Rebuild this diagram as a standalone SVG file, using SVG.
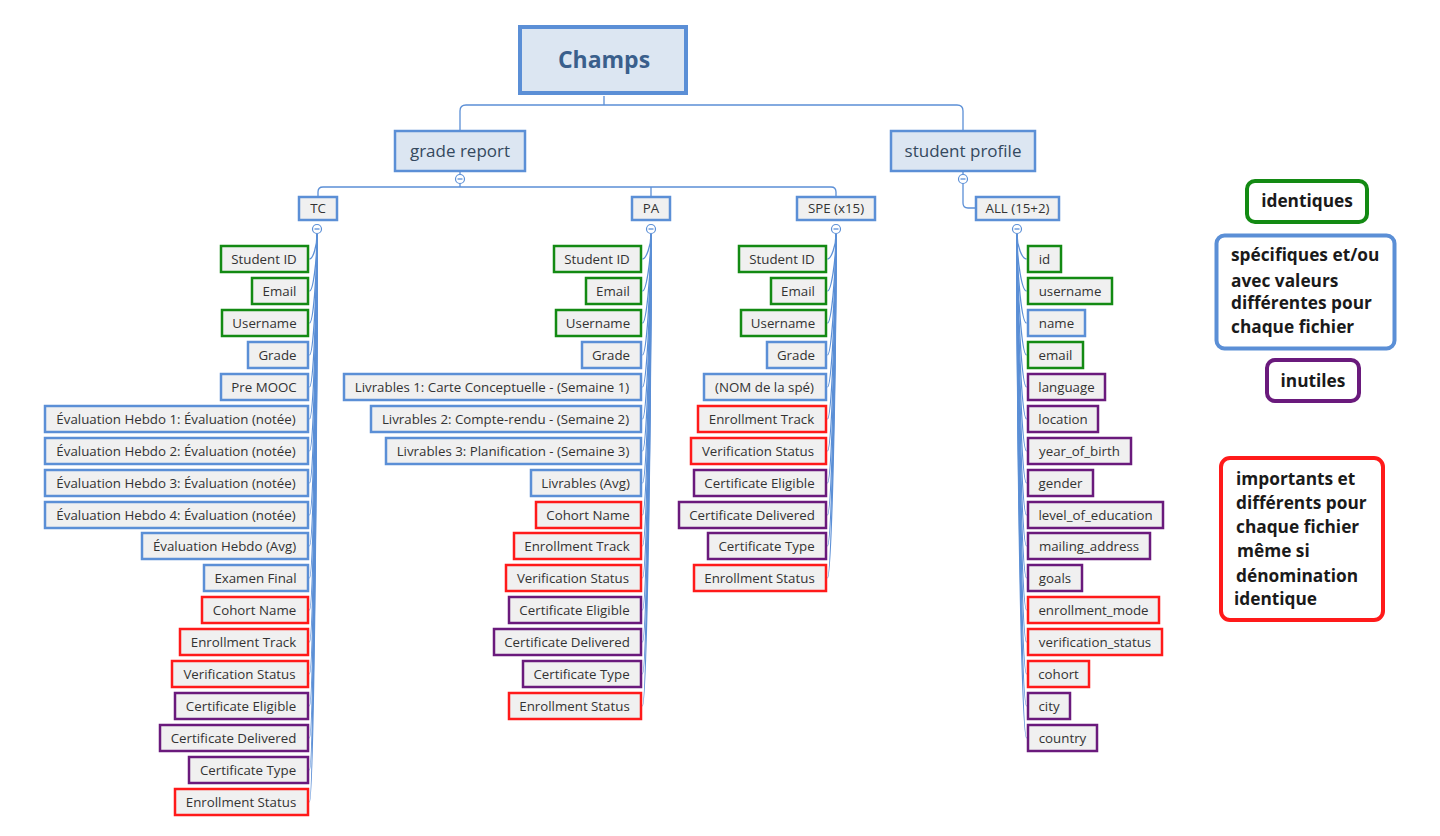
<svg xmlns="http://www.w3.org/2000/svg" width="1440" height="836" viewBox="0 0 1440 836">
<style>
text{font-family:"Open Sans","Noto Sans","Liberation Sans",sans-serif;}
.lf{fill:#f0f0f0;stroke-width:2.5;}
.g{stroke:#138a13;}
.b{stroke:#5b8fd6;}
.r{stroke:#ff1a1a;}
.p{stroke:#6a1a7c;}
.lt{font-size:13.3px;fill:#333;text-anchor:middle;}
.mid{fill:#f0f0f0;stroke:#5b8fd6;stroke-width:2.5;}
.cn{fill:none;stroke:#5b8fd6;stroke-width:1.3;}
.cc{fill:#fff;stroke:#5b8fd6;stroke-width:1.2;}
.lg{fill:#fff;stroke-width:4;}
.lgt{font-size:17.3px;font-weight:bold;fill:#1a1a1a;}
</style>
<rect width="1440" height="836" fill="#fff"/>

<g id="connectors">
<path class="cn" d="M604,96 V105 M460,130 V111 Q460,105 466,105 H957 Q963,105 963,111 V130"/>
<path class="cn" d="M460,172 V174.5 M460,183.5 V187 M318,196 V192 Q318,187 323,187 H831 Q836,187 836,192 V196 M651,187 V196"/>
<path class="cn" d="M963,172 V174.5 M963,183.5 V203 Q963,208 968,208 H975"/>
<g id="tc-links">
<path class="cn" d="M317,234 C317,246 313,259 309.5,259"/>
<path class="cn" d="M317,234 C317,262 313,291 309.5,291"/>
<path class="cn" d="M317,234 C317,278 313,323 309.5,323"/>
<path class="cn" d="M317,234 C317,294 313,355 309.5,355"/>
<path class="cn" d="M317,234 C317,310 313,387 309.5,387"/>
<path class="cn" d="M317,234 C317,326 313,419 309.5,419"/>
<path class="cn" d="M317,234 C317,342 313,451 309.5,451"/>
<path class="cn" d="M317,234 C317,358 313,483 309.5,483"/>
<path class="cn" d="M317,234 C317,374 313,515 309.5,515"/>
<path class="cn" d="M317,234 C317,390 313,546 309.5,546"/>
<path class="cn" d="M317,234 C317,406 313,578 309.5,578"/>
<path class="cn" d="M317,234 C317,422 313,610 309.5,610"/>
<path class="cn" d="M317,234 C317,438 313,642 309.5,642"/>
<path class="cn" d="M317,234 C317,454 313,674 309.5,674"/>
<path class="cn" d="M317,234 C317,470 313,706 309.5,706"/>
<path class="cn" d="M317,234 C317,486 313,738 309.5,738"/>
<path class="cn" d="M317,234 C317,502 313,770 309.5,770"/>
<path class="cn" d="M317,234 C317,518 313,802 309.5,802"/>
</g>
<g id="pa-links">
<path class="cn" d="M651,234 C651,246 646,259 642.5,259"/>
<path class="cn" d="M651,234 C651,262 646,291 642.5,291"/>
<path class="cn" d="M651,234 C651,278 646,323 642.5,323"/>
<path class="cn" d="M651,234 C651,294 646,355 642.5,355"/>
<path class="cn" d="M651,234 C651,310 646,387 642.5,387"/>
<path class="cn" d="M651,234 C651,326 646,419 642.5,419"/>
<path class="cn" d="M651,234 C651,342 646,451 642.5,451"/>
<path class="cn" d="M651,234 C651,358 646,483 642.5,483"/>
<path class="cn" d="M651,234 C651,374 646,515 642.5,515"/>
<path class="cn" d="M651,234 C651,390 646,546 642.5,546"/>
<path class="cn" d="M651,234 C651,406 646,578 642.5,578"/>
<path class="cn" d="M651,234 C651,422 646,610 642.5,610"/>
<path class="cn" d="M651,234 C651,438 646,642 642.5,642"/>
<path class="cn" d="M651,234 C651,454 646,674 642.5,674"/>
<path class="cn" d="M651,234 C651,470 646,706 642.5,706"/>
</g>
<g id="spe-links">
<path class="cn" d="M836,234 C836,246 831,259 827.5,259"/>
<path class="cn" d="M836,234 C836,262 831,291 827.5,291"/>
<path class="cn" d="M836,234 C836,278 831,323 827.5,323"/>
<path class="cn" d="M836,234 C836,294 831,355 827.5,355"/>
<path class="cn" d="M836,234 C836,310 831,387 827.5,387"/>
<path class="cn" d="M836,234 C836,326 831,419 827.5,419"/>
<path class="cn" d="M836,234 C836,342 831,451 827.5,451"/>
<path class="cn" d="M836,234 C836,358 831,483 827.5,483"/>
<path class="cn" d="M836,234 C836,374 831,515 827.5,515"/>
<path class="cn" d="M836,234 C836,390 831,546 827.5,546"/>
<path class="cn" d="M836,234 C836,406 831,578 827.5,578"/>
</g>
<g id="all-links">
<path class="cn" d="M1017,234 C1017,246 1022,259 1026.5,259"/>
<path class="cn" d="M1017,234 C1017,262 1022,291 1026.5,291"/>
<path class="cn" d="M1017,234 C1017,278 1022,323 1026.5,323"/>
<path class="cn" d="M1017,234 C1017,294 1022,355 1026.5,355"/>
<path class="cn" d="M1017,234 C1017,310 1022,387 1026.5,387"/>
<path class="cn" d="M1017,234 C1017,326 1022,419 1026.5,419"/>
<path class="cn" d="M1017,234 C1017,342 1022,451 1026.5,451"/>
<path class="cn" d="M1017,234 C1017,358 1022,483 1026.5,483"/>
<path class="cn" d="M1017,234 C1017,374 1022,515 1026.5,515"/>
<path class="cn" d="M1017,234 C1017,390 1022,546 1026.5,546"/>
<path class="cn" d="M1017,234 C1017,406 1022,578 1026.5,578"/>
<path class="cn" d="M1017,234 C1017,422 1022,610 1026.5,610"/>
<path class="cn" d="M1017,234 C1017,438 1022,642 1026.5,642"/>
<path class="cn" d="M1017,234 C1017,454 1022,674 1026.5,674"/>
<path class="cn" d="M1017,234 C1017,470 1022,706 1026.5,706"/>
<path class="cn" d="M1017,234 C1017,486 1022,738 1026.5,738"/>
</g>
<g id="collapse">
<circle class="cc" cx="460" cy="179" r="4.5"/><path class="cn" d="M457.5,179 H462.5"/>
<circle class="cc" cx="963" cy="179" r="4.5"/><path class="cn" d="M960.5,179 H965.5"/>
<circle class="cc" cx="317" cy="229" r="4.5"/><path class="cn" d="M314.5,229 H319.5"/>
<circle class="cc" cx="651" cy="229" r="4.5"/><path class="cn" d="M648.5,229 H653.5"/>
<circle class="cc" cx="836" cy="229" r="4.5"/><path class="cn" d="M833.5,229 H838.5"/>
<circle class="cc" cx="1017" cy="229" r="4.5"/><path class="cn" d="M1014.5,229 H1019.5"/>
</g>
</g>

<g id="root">
<rect x="520" y="27" width="166" height="66" fill="#dce6f2" stroke="#5b8fd6" stroke-width="4"/>
<text x="604" y="68" font-size="23" font-weight="bold" fill="#3a5f8c" text-anchor="middle">Champs</text>
</g>
<g id="grade-report">
<rect x="395" y="131" width="130" height="40" fill="#dce6f2" stroke="#5b8fd6" stroke-width="2.5"/>
<text x="460" y="157" font-size="17" fill="#34495e" text-anchor="middle">grade report</text>
</g>
<g id="student-profile">
<rect x="891" y="131" width="144" height="40" fill="#dce6f2" stroke="#5b8fd6" stroke-width="2.5"/>
<text x="963" y="157" font-size="17" fill="#34495e" text-anchor="middle">student profile</text>
</g>
<g id="tc"><rect class="mid" x="299" y="197" width="38" height="23"/><text class="lt" x="318" y="213">TC</text></g>
<g id="pa"><rect class="mid" x="632" y="197" width="38" height="23"/><text class="lt" x="651" y="213">PA</text></g>
<g id="spe"><rect class="mid" x="797" y="197" width="78" height="23"/><text class="lt" x="836" y="213">SPE (x15)</text></g>
<g id="all"><rect class="mid" x="976" y="197" width="83" height="23"/><text class="lt" x="1017.5" y="213">ALL (15+2)</text></g>

<g id="tc-leaves">
<g id="tc-1"><rect class="lf g" x="221" y="246" width="87" height="26"/><text class="lt" x="264" y="263.5">Student ID</text></g>
<g id="tc-2"><rect class="lf g" x="252" y="278" width="56" height="26"/><text class="lt" x="279.5" y="295.5">Email</text></g>
<g id="tc-3"><rect class="lf g" x="222" y="310" width="86" height="26"/><text class="lt" x="264.5" y="327.5">Username</text></g>
<g id="tc-4"><rect class="lf b" x="248" y="342" width="60" height="26"/><text class="lt" x="277.5" y="359.5">Grade</text></g>
<g id="tc-5"><rect class="lf b" x="221" y="374" width="87" height="26"/><text class="lt" x="264" y="391.5">Pre MOOC</text></g>
<g id="tc-6"><rect class="lf b" x="45" y="406" width="263" height="26"/><text class="lt" x="176" y="423.5">Évaluation Hebdo 1: Évaluation (notée)</text></g>
<g id="tc-7"><rect class="lf b" x="45" y="438" width="263" height="26"/><text class="lt" x="176" y="455.5">Évaluation Hebdo 2: Évaluation (notée)</text></g>
<g id="tc-8"><rect class="lf b" x="45" y="470" width="263" height="26"/><text class="lt" x="176" y="487.5">Évaluation Hebdo 3: Évaluation (notée)</text></g>
<g id="tc-9"><rect class="lf b" x="45" y="502" width="263" height="26"/><text class="lt" x="176" y="519.5">Évaluation Hebdo 4: Évaluation (notée)</text></g>
<g id="tc-10"><rect class="lf b" x="142" y="533" width="166" height="26"/><text class="lt" x="224.5" y="550.5">Évaluation Hebdo (Avg)</text></g>
<g id="tc-11"><rect class="lf b" x="204" y="565" width="104" height="26"/><text class="lt" x="255.5" y="582.5">Examen Final</text></g>
<g id="tc-12"><rect class="lf r" x="202" y="597" width="106" height="26"/><text class="lt" x="254.5" y="614.5">Cohort Name</text></g>
<g id="tc-13"><rect class="lf r" x="180" y="629" width="128" height="26"/><text class="lt" x="243.5" y="646.5">Enrollment Track</text></g>
<g id="tc-14"><rect class="lf r" x="172" y="661" width="136" height="26"/><text class="lt" x="239.5" y="678.5">Verification Status</text></g>
<g id="tc-15"><rect class="lf p" x="175" y="693" width="133" height="26"/><text class="lt" x="241" y="710.5">Certificate Eligible</text></g>
<g id="tc-16"><rect class="lf p" x="160" y="725" width="148" height="26"/><text class="lt" x="233.5" y="742.5">Certificate Delivered</text></g>
<g id="tc-17"><rect class="lf p" x="189" y="757" width="119" height="26"/><text class="lt" x="248" y="774.5">Certificate Type</text></g>
<g id="tc-18"><rect class="lf r" x="175" y="789" width="133" height="26"/><text class="lt" x="241" y="806.5">Enrollment Status</text></g>
</g>

<g id="pa-leaves">
<g id="pa-1"><rect class="lf g" x="554" y="246" width="87" height="26"/><text class="lt" x="597" y="263.5">Student ID</text></g>
<g id="pa-2"><rect class="lf g" x="586" y="278" width="55" height="26"/><text class="lt" x="613" y="295.5">Email</text></g>
<g id="pa-3"><rect class="lf g" x="556" y="310" width="85" height="26"/><text class="lt" x="598" y="327.5">Username</text></g>
<g id="pa-4"><rect class="lf b" x="582" y="342" width="59" height="26"/><text class="lt" x="611" y="359.5">Grade</text></g>
<g id="pa-5"><rect class="lf b" x="344" y="374" width="297" height="26"/><text class="lt" x="492" y="391.5">Livrables 1: Carte Conceptuelle - (Semaine 1)</text></g>
<g id="pa-6"><rect class="lf b" x="371" y="406" width="270" height="26"/><text class="lt" x="505.5" y="423.5">Livrables 2: Compte-rendu - (Semaine 2)</text></g>
<g id="pa-7"><rect class="lf b" x="386" y="438" width="255" height="26"/><text class="lt" x="513" y="455.5">Livrables 3: Planification - (Semaine 3)</text></g>
<g id="pa-8"><rect class="lf b" x="531" y="470" width="110" height="26"/><text class="lt" x="585.5" y="487.5">Livrables (Avg)</text></g>
<g id="pa-9"><rect class="lf r" x="536" y="502" width="105" height="26"/><text class="lt" x="588" y="519.5">Cohort Name</text></g>
<g id="pa-10"><rect class="lf r" x="514" y="533" width="127" height="26"/><text class="lt" x="577" y="550.5">Enrollment Track</text></g>
<g id="pa-11"><rect class="lf r" x="506" y="565" width="135" height="26"/><text class="lt" x="573" y="582.5">Verification Status</text></g>
<g id="pa-12"><rect class="lf p" x="509" y="597" width="132" height="26"/><text class="lt" x="574.5" y="614.5">Certificate Eligible</text></g>
<g id="pa-13"><rect class="lf p" x="494" y="629" width="147" height="26"/><text class="lt" x="567" y="646.5">Certificate Delivered</text></g>
<g id="pa-14"><rect class="lf p" x="523" y="661" width="118" height="26"/><text class="lt" x="581.5" y="678.5">Certificate Type</text></g>
<g id="pa-15"><rect class="lf r" x="509" y="693" width="132" height="26"/><text class="lt" x="574.5" y="710.5">Enrollment Status</text></g>
</g>

<g id="spe-leaves">
<g id="spe-1"><rect class="lf g" x="739" y="246" width="87" height="26"/><text class="lt" x="782" y="263.5">Student ID</text></g>
<g id="spe-2"><rect class="lf g" x="771" y="278" width="55" height="26"/><text class="lt" x="798" y="295.5">Email</text></g>
<g id="spe-3"><rect class="lf g" x="741" y="310" width="85" height="26"/><text class="lt" x="783" y="327.5">Username</text></g>
<g id="spe-4"><rect class="lf b" x="767" y="342" width="59" height="26"/><text class="lt" x="796" y="359.5">Grade</text></g>
<g id="spe-5"><rect class="lf b" x="704" y="374" width="122" height="26"/><text class="lt" x="764.5" y="391.5">(NOM de la spé)</text></g>
<g id="spe-6"><rect class="lf r" x="698" y="406" width="128" height="26"/><text class="lt" x="761.5" y="423.5">Enrollment Track</text></g>
<g id="spe-7"><rect class="lf r" x="691" y="438" width="135" height="26"/><text class="lt" x="758" y="455.5">Verification Status</text></g>
<g id="spe-8"><rect class="lf p" x="694" y="470" width="132" height="26"/><text class="lt" x="759.5" y="487.5">Certificate Eligible</text></g>
<g id="spe-9"><rect class="lf p" x="679" y="502" width="147" height="26"/><text class="lt" x="752" y="519.5">Certificate Delivered</text></g>
<g id="spe-10"><rect class="lf p" x="708" y="533" width="118" height="26"/><text class="lt" x="766.5" y="550.5">Certificate Type</text></g>
<g id="spe-11"><rect class="lf r" x="694" y="565" width="132" height="26"/><text class="lt" x="759.5" y="582.5">Enrollment Status</text></g>
</g>

<g id="all-leaves">
<g id="all-1"><rect class="lf g" x="1028" y="246" width="33" height="26"/><text class="lt" x="1044.5" y="263.5">id</text></g>
<g id="all-2"><rect class="lf g" x="1028" y="278" width="84" height="26"/><text class="lt" x="1070" y="295.5">username</text></g>
<g id="all-3"><rect class="lf b" x="1028" y="310" width="57" height="26"/><text class="lt" x="1056.5" y="327.5">name</text></g>
<g id="all-4"><rect class="lf g" x="1028" y="342" width="55" height="26"/><text class="lt" x="1055.5" y="359.5">email</text></g>
<g id="all-5"><rect class="lf p" x="1028" y="374" width="77" height="26"/><text class="lt" x="1066.5" y="391.5">language</text></g>
<g id="all-6"><rect class="lf p" x="1028" y="406" width="70" height="26"/><text class="lt" x="1063" y="423.5">location</text></g>
<g id="all-7"><rect class="lf p" x="1028" y="438" width="103" height="26"/><text class="lt" x="1079.5" y="455.5">year_of_birth</text></g>
<g id="all-8"><rect class="lf p" x="1028" y="470" width="65" height="26"/><text class="lt" x="1060.5" y="487.5">gender</text></g>
<g id="all-9"><rect class="lf p" x="1028" y="502" width="135" height="26"/><text class="lt" x="1095.5" y="519.5">level_of_education</text></g>
<g id="all-10"><rect class="lf p" x="1028" y="533" width="122" height="26"/><text class="lt" x="1089" y="550.5">mailing_address</text></g>
<g id="all-11"><rect class="lf p" x="1028" y="565" width="54" height="26"/><text class="lt" x="1055" y="582.5">goals</text></g>
<g id="all-12"><rect class="lf r" x="1028" y="597" width="131" height="26"/><text class="lt" x="1093.5" y="614.5">enrollment_mode</text></g>
<g id="all-13"><rect class="lf r" x="1028" y="629" width="134" height="26"/><text class="lt" x="1095" y="646.5">verification_status</text></g>
<g id="all-14"><rect class="lf r" x="1028" y="661" width="61" height="26"/><text class="lt" x="1058.5" y="678.5">cohort</text></g>
<g id="all-15"><rect class="lf p" x="1028" y="693" width="42" height="26"/><text class="lt" x="1049" y="710.5">city</text></g>
<g id="all-16"><rect class="lf p" x="1028" y="725" width="69" height="26"/><text class="lt" x="1062.5" y="742.5">country</text></g>
</g>

<g id="legend-identiques">
<rect class="lg g" x="1247" y="181" width="120" height="41" rx="8"/>
<text class="lgt" x="1307" y="207" text-anchor="middle">identiques</text>
</g>
<g id="legend-specifiques">
<rect class="lg b" x="1216.5" y="235.5" width="178" height="113" rx="8" stroke-width="3.5"/>
<text class="lgt" x="1231" y="261">spécifiques et/ou</text>
<text class="lgt" x="1231" y="287">avec valeurs</text>
<text class="lgt" x="1231" y="309">différentes pour</text>
<text class="lgt" x="1231" y="333">chaque fichier</text>
</g>
<g id="legend-inutiles">
<rect class="lg p" x="1267" y="360" width="92" height="41" rx="8"/>
<text class="lgt" x="1313" y="387" text-anchor="middle">inutiles</text>
</g>
<g id="legend-importants">
<rect class="lg r" x="1221" y="458" width="162" height="162" rx="9"/>
<text class="lgt" x="1236" y="485">importants et</text>
<text class="lgt" x="1236" y="509">différents pour</text>
<text class="lgt" x="1236" y="533">chaque fichier</text>
<text class="lgt" x="1237" y="557">même si</text>
<text class="lgt" x="1236" y="582">dénomination</text>
<text class="lgt" x="1234" y="605">identique</text>
</g>
</svg>
